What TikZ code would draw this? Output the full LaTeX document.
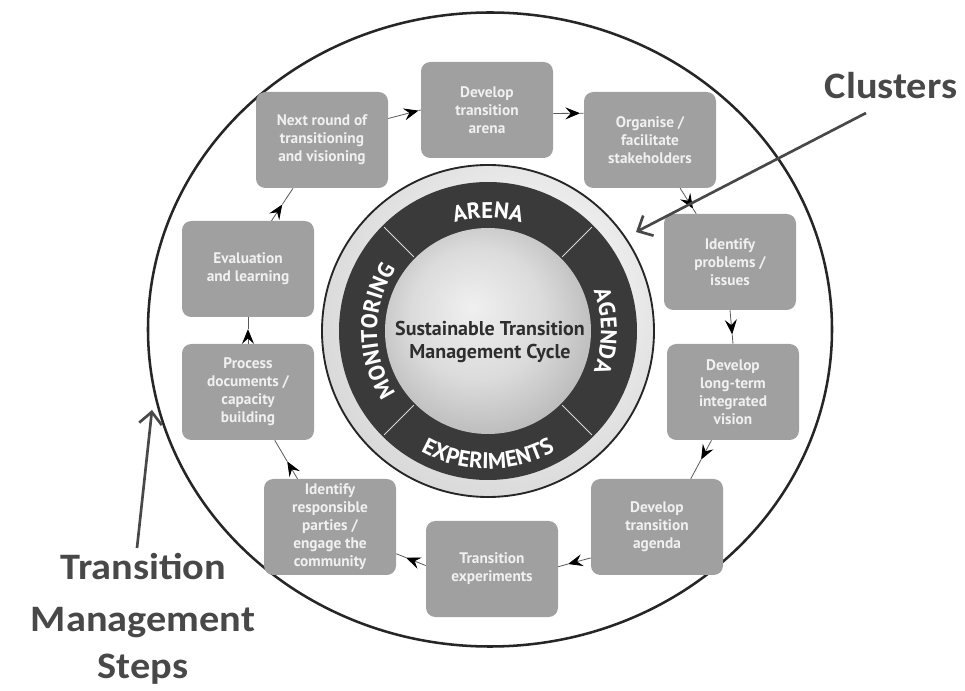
\documentclass[tikz,border=0pt]{standalone}
\usepackage{fontspec}
\setsansfont{PT Sans}
\newfontfamily\labelfont[FakeStretch=1.08]{Carlito}
\usetikzlibrary{arrows.meta,decorations.text}
\definecolor{boxgray}{RGB}{160,160,160}
\definecolor{bandgray}{RGB}{58,58,58}
\definecolor{labelgray}{RGB}{72,72,72}
\pgfdeclareradialshading{diskshade}{\pgfpoint{-4bp}{6bp}}{color(0bp)=(white!94!black); color(16bp)=(white!86!black); color(34bp)=(black!32); color(50bp)=(black!60)}
\pgfdeclareradialshading{rimshade}{\pgfpoint{8bp}{8bp}}{color(0bp)=(white); color(30bp)=(white!85!black); color(50bp)=(white!72!black)}
\newcommand\ringfont{\sffamily\bfseries\fontsize{17}{17}\selectfont}
\begin{document}
\begin{tikzpicture}[x=0.75pt,y=0.75pt,
  stepbox/.style={fill=boxgray, rounded corners=7pt, minimum width=99pt, minimum height=72pt,
    inner sep=1pt, align=center, text=white!94!black,
    font=\sffamily\bfseries\fontsize{11.5}{13.5}\selectfont},
  link/.style={draw=black!65, line width=0.6pt},
  head/.style={draw=black!65, line width=0.6pt, -{Stealth[length=11pt,width=9pt,inset=4pt,color=black]}},
  callout/.style={draw=labelgray, line width=2pt, -{Straight Barb[length=9pt,width=17pt]}},
  biglabel/.style={text=labelgray, font=\labelfont\bfseries\fontsize{28}{30}\selectfont, inner sep=0pt, anchor=base},
  ringtext/.style={decorate, decoration={text along path, text={|\ringfont|#1}, text align=center, text color=white}}]
\useasboundingbox (0,0) rectangle (965,690);
\fill[white] (0,0) rectangle (965,690);

% outer ring of steps
\draw[line width=1.9pt, draw=black!85] (490,360.5) ellipse [x radius=342, y radius=317];

% central cycle
\coordinate (rc) at (488,359);
\shade[shading=rimshade] (rc) circle[radius=166];
\draw[draw=black!85, line width=1.4pt] (rc) circle[radius=166];
\fill[bandgray] (rc) circle[radius=149];
\shade[shading=diskshade] (rc) circle[radius=103];
\foreach \a in {45,135,225,315}
  \draw[white!85!black, line width=0.6pt] ([shift={(\a:105)}]rc) -- ([shift={(\a:147)}]rc);
\path[ringtext=ARENA] ([shift={(130:113)}]rc) arc[start angle=130, end angle=50, radius=113];
\path[ringtext=AGENDA] ([shift={(50:113)}]rc) arc[start angle=50, end angle=-50, radius=113];
\path[ringtext=MONITORING] ([shift={(250:111)}]rc) arc[start angle=250, end angle=110, radius=111];
\path[ringtext=EXPERIMENTS] ([shift={(200:138)}]rc) arc[start angle=200, end angle=340, radius=138];
\node[text=black!82, align=center, font=\sffamily\bfseries\fontsize{15}{17}\selectfont] (title) at (490,348)
  {Sustainable Transition\\Management Cycle};

% steps
\node[stepbox] (b1) at (322,550) {Next round of\\transitioning\\and visioning};
\node[stepbox] (b2) at (487,580) {Develop\\transition\\arena};
\node[stepbox] (b3) at (650,550) {Organise /\\facilitate\\stakeholders};
\node[stepbox] (b4) at (730,428) {Identify\\problems /\\issues};
\node[stepbox] (b5) at (733,298) {Develop\\long-term\\integrated\\vision};
\node[stepbox] (b6) at (657,163) {Develop\\transition\\agenda};
\node[stepbox] (b7) at (492,121) {Transition\\experiments};
\node[stepbox] (b8) at (330,163) {Identify\\responsible\\parties /\\engage the\\community};
\node[stepbox] (b9) at (248,298) {Process\\documents /\\capacity\\building};
\node[stepbox] (b10) at (248,421) {Evaluation\\and learning};

% connectors: line from box to box, head placed along it
\foreach \sa/\ta/\pa [count=\i] in {b1.18/b2.west/0.93, b2.-3/b3.158/0.88, b3.-58/b4.125/0.8,
    b4.south/b5.north/0.72, b5.-114/b6.55/0.5, b6.205/b7.2/0.7, b7.177/b8.-22/0.67,
    b8.124/b9.-61/0.45, b9.north/b10.south/0.55, b10.64/b1.-121/0.5}{
  \path (\sa) -- (\ta) coordinate[pos=\pa] (m\i);
  \draw[head] (\sa) -- (m\i);
  \draw[link] (m\i) -- (\ta);
}

% labels
\node[biglabel] (clusters) at (891,591) {Clusters};
\coordinate (clstart) at (866,577);
\coordinate (cltip) at (636,458);
\draw[callout] (clstart) -- (cltip);

\node[biglabel] (stepsA) at (143,110) {Transition};
\node[biglabel] (stepsB) at (143,59) {Management};
\node[biglabel] (stepsC) at (143,12) {Steps};
\coordinate (ststart) at (137,142);
\coordinate (sttip) at (152,280);
\draw[callout] (ststart) -- (sttip);
\end{tikzpicture}
\end{document}
